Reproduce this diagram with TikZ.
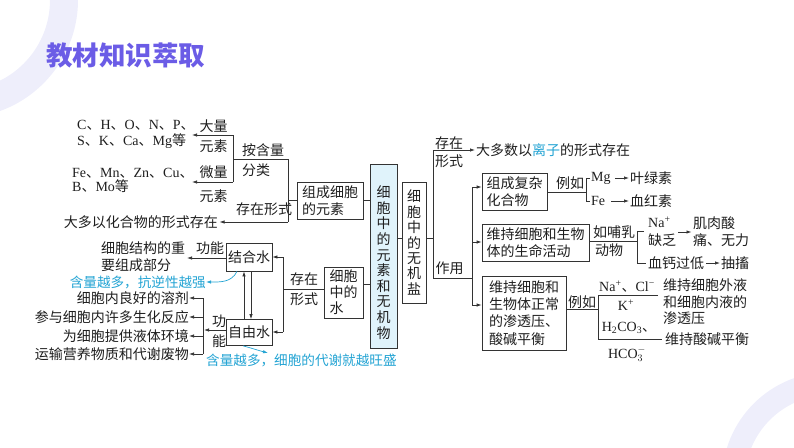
\documentclass[tikz,border=0pt]{standalone}
\usepackage{fontspec}
\setmainfont{Noto Sans CJK SC}
\newfontfamily\lat{Liberation Serif}
\usetikzlibrary{arrows.meta,calc}
\definecolor{ln}{HTML}{333333}
\definecolor{txt}{HTML}{1E1E1E}
\definecolor{cyanc}{HTML}{22A3D3}
\definecolor{cbox}{HTML}{E0F3FB}
\definecolor{titlec}{HTML}{6B5CE6}
\definecolor{ringc}{HTML}{EEEEFB}
\begin{document}
\begin{tikzpicture}[x=1pt,y=-1pt,
  every node/.style={inner sep=0pt, text=txt, font=\fontsize{14}{17}\selectfont},
  box/.style={draw=ln, line width=0.7pt, align=left},
  con/.style={draw=ln, line width=0.7pt},
  arr/.style={con, -{Latex[length=5pt,width=3.4pt]}},
  carr/.style={draw=cyanc, line width=0.7pt, -{Latex[length=5pt,width=3.4pt]}},
  ctext/.style={text=cyanc, font=\fontsize{13.6}{16}\selectfont},
  vtext/.style={align=center}
]
\useasboundingbox (0,0) rectangle (794,447);
\begin{scope}
\clip (0,0) rectangle (794,447);
\fill[ringc, even odd rule] (-40,0) circle[radius=118pt] (-40,0) circle[radius=90pt];
\fill[ringc, even odd rule] (830,480) circle[radius=108pt] (830,480) circle[radius=85pt];
\end{scope}

% title
\node[anchor=west, text=titlec, font=\fontsize{26.5}{26.5}\bfseries\selectfont] (title) at (46,55) {教材知识萃取};

% ---------- central boxes ----------
\node[box, fill=cbox, minimum width=27pt, minimum height=184pt] (core) at (383.5,256) {};
\node[vtext, font=\fontsize{14}{15.6}\selectfont] (coretxt) at (383.5,262.5) {细\\胞\\中\\的\\元\\素\\和\\无\\机\\物};
\node[box, minimum width=66pt, minimum height=37pt] (yuansu) at (330,200.5) {组成细胞\\的元素};
\node[box, minimum width=39pt, minimum height=51pt, font=\fontsize{14}{16}\selectfont] (water) at (343.5,292.5) {细胞\\中的\\水};
\node[box, align=center, minimum width=24pt, minimum height=121pt, font=\fontsize{14}{15.4}\selectfont] (salt) at (414,242.5) {细\\胞\\中\\的\\无\\机\\盐};

\draw[con] (yuansu.east) -- (core.west |- yuansu.east);
\coordinate (wr) at (0,284);
\draw[con] (water.east |- wr) -- (core.west |- wr);
\coordinate (sr) at (0,238);
\draw[con] (core.east |- sr) -- (salt.west |- sr);

% ---------- elements ----------
\node[anchor=west, align=left, font=\fontsize{14}{16}\selectfont] (big1) at (77,134) {{\lat C}、{\lat H}、{\lat O}、{\lat N}、{\lat P}、\\{\lat S}、{\lat K}、{\lat Ca}、{\lat Mg}等};
\node (dl1) at (213.5,126) {大量};
\node (dl2) at (213.5,146) {元素};
\node[anchor=west, align=left, font=\fontsize{14}{14}\selectfont] (wl) at (72,180) {{\lat Fe}、{\lat Mn}、{\lat Zn}、{\lat Cu}、\\{\lat B}、{\lat Mo}等};
\node (wl1) at (213.5,172) {微量};
\node (wl2) at (213.5,196) {元素};
\node[anchor=west] (ahl1) at (242,150) {按含量};
\node[anchor=west] (ahl2) at (242,170) {分类};
\node (czxs) at (264,209) {存在形式};
\node[anchor=east] (hhw) at (218,222) {大多以化合物的形式存在};

\coordinate (ea) at (288,159);
\coordinate (eb) at (288,222);
\coordinate (ec) at (233,159);
\coordinate (ed) at (233,135);
\coordinate (ee) at (233,182);
\coordinate (t1) at (192,135);
\coordinate (t2) at (192,182);
\draw[con] (yuansu.west) -- (yuansu.west -| ea);
\draw[con] (ea) -- (eb);
\draw[con] (ea) -- (ec);
\draw[con] (ed) -- (ee);
\draw[arr] (ed) -- (t1);
\draw[arr] (ee) -- (t2);
\draw[arr, shorten >=1.5pt] (eb) -- (hhw.east);

% ---------- water ----------
\node[box, minimum width=46pt, minimum height=28pt] (jh) at (249,257) {结合水};
\node[box, minimum width=46pt, minimum height=26pt] (zy) at (249,332.5) {自由水};
\coordinate (wa) at (283,257);
\coordinate (wb) at (283,332);
\coordinate (wm) at (283,289);
\draw[con] (water.west |- wm) -- (wm);
\draw[con] (wa) -- (wb);
\draw[arr] (wa) -- (jh.east);
\draw[arr] (wb) -- (zy.east |- wb);
\node (cz1) at (304,279) {存在};
\node (cz2) at (304,299) {形式};

\coordinate (xa) at (244,0);
\coordinate (xb) at (251,0);
\draw[arr] (zy.north -| xa) -- (jh.south -| xa);
\draw[arr] (jh.south -| xb) -- (zy.north -| xb);

\node[anchor=west, align=left] (jgz) at (101,256.5) {细胞结构的重\\要组成部分};
\node (gn1) at (210,248) {功能};
\coordinate (t3) at (187,258);
\draw[arr] (jh.west |- t3) -- (t3);
\node[anchor=east, ctext] (ky) at (206,282) {含量越多，抗逆性越强};
\draw[carr] ($(jh.south)+(-12,0)$) to[out=-115,in=0] (ky.east);

\node[align=center, font=\fontsize{14}{20}\selectfont] (gn2) at (219,331) {功\\能};
\coordinate (zb) at (204,330);
\coordinate (zt) at (203,298);
\coordinate (zbot) at (203,354);
\draw[arr] (zy.west |- zb) -- (zb);
\draw[con] (zt) -- (zbot);
\node[anchor=east] (f1) at (189,298) {细胞内良好的溶剂};
\node[anchor=east] (f2) at (189,317) {参与细胞内许多生化反应};
\node[anchor=east] (f3) at (189,336) {为细胞提供液体环境};
\node[anchor=east] (f4) at (189,354) {运输营养物质和代谢废物};
\draw[arr] (zt) -- (f1.east);
\draw[arr] (f2.east -| zt) -- (f2.east);
\draw[arr] (f3.east -| zt) -- (f3.east);
\draw[arr] (zbot) -- (f4.east);
\node[anchor=west, ctext] (dx) at (206,360) {含量越多，细胞的代谢就越旺盛};
\coordinate (ct) at (268,353);
\draw[carr] ($(zy.south)+(-6,0)$) to[out=-15,in=165] (ct);

% ---------- inorganic salts ----------
\coordinate (ta) at (433,150);
\coordinate (tb) at (433,278);
\coordinate (tm) at (433,238);
\draw[con] (ta) -- (tb);
\draw[con] (salt.east |- tm) -- (tm);
\node[anchor=west] (lz) at (476,150) {大多数以\textcolor{cyanc}{离子}的形式存在};
\draw[arr, shorten >=1pt] (ta) -- (lz.west);
\node (cx1) at (449,143) {存在};
\node (cx2) at (449,161) {形式};
\coordinate (ua) at (472,187);
\coordinate (ub) at (472,242);
\coordinate (uc) at (472,305);
\coordinate (ud) at (472,278);
\draw[con] (tb) -- (ud);
\draw[con] (ua) -- (uc);
\node (zyy) at (449.5,268) {作用};

\node[box, minimum width=65pt, minimum height=37pt] (b7) at (514.5,191.5) {组成复杂\\化合物};
\node[box, minimum width=107pt, minimum height=37pt] (b8) at (535.5,242.5) {维持细胞和生物\\体的生命活动};
\node[box, minimum width=84pt, minimum height=74pt, font=\fontsize{14}{17.3}\selectfont] (b9) at (524,313) {维持细胞和\\生物体正常\\的渗透压、\\酸碱平衡};
\draw[arr] (ua) -- (b7.west |- ua);
\draw[arr] (ub) -- (b8.west |- ub);
\draw[arr] (uc) -- (b9.west |- uc);

% example 1
\coordinate (ra) at (586,192);
\coordinate (rb1) at (586,178);
\coordinate (rb2) at (586,201);
\draw[con] (b7.east |- ra) -- (ra);
\node (ex1) at (570,183) {例如};
\draw[con] ([xshift=4pt]rb1) -- (rb1) -- (rb2) -- ([xshift=4pt]rb2);
\node[anchor=west] (mg) at (591,178) {\lat Mg};
\node[anchor=west] (ylz) at (630,178) {叶绿素};
\draw[arr, shorten <=4pt, shorten >=1pt] (mg) -- (ylz);
\node[anchor=west] (fe) at (591,201) {\lat Fe};
\node[anchor=west] (xhs) at (630,201) {血红素};
\draw[arr, shorten <=6pt, shorten >=1pt] (fe) -- (xhs);

% example 2
\coordinate (rc) at (637,241);
\coordinate (rd1) at (637,231);
\coordinate (rd2) at (637,263);
\draw[con] (b8.east |- rc) -- (rc);
\node (rbl) at (614,232) {如哺乳};
\node[anchor=west] (dw) at (595,250) {动物};
\draw[con] ([xshift=7pt]rd1) -- (rd1) -- (rd2) -- ([xshift=9pt]rd2);
\node[anchor=west] (na) at (648,222) {\lat Na\textsuperscript{+}};
\node[anchor=west] (qf) at (648,240) {缺乏};
\node[anchor=west, align=left] (jr) at (693,231.5) {肌肉酸\\痛、无力};
\coordinate (qa) at (678,232);
\draw[arr, shorten >=1.5pt] (qa) -- (jr.west |- qa);
\node[anchor=west] (xg) at (648,263) {血钙过低};
\node[anchor=west] (cc) at (721,263) {抽搐};
\draw[arr, shorten <=1.5pt, shorten >=1pt] (xg) -- (cc);

% example 3
\coordinate (re) at (598,309);
\coordinate (rf1) at (598,295);
\coordinate (rf2) at (598,339);
\coordinate (rg1) at (658,295);
\coordinate (rg2) at (662,339);
\draw[con] (b9.east |- re) -- (re);
\node (ex3) at (582,302) {例如};
\draw[con] (rg1) -- (rf1) -- (rf2) -- (rg2);
\node (nacl) at (627,287) {{\lat Na\textsuperscript{+}}、{\lat Cl\textsuperscript{−}}};
\node (kk) at (626,305) {\lat K\textsuperscript{+}};
\node (hco) at (629,328) {{\lat H\textsubscript{2}CO\textsubscript{3}}、};
\node (hco3) at (627,354) {\lat HCO$_3^{-}$};
\node[anchor=west, align=left, font=\fontsize{14}{16.5}\selectfont] (stw) at (663,302) {维持细胞外液\\和细胞内液的\\渗透压};
\node[anchor=west] (sj) at (665,339) {维持酸碱平衡};
\end{tikzpicture}
\end{document}
